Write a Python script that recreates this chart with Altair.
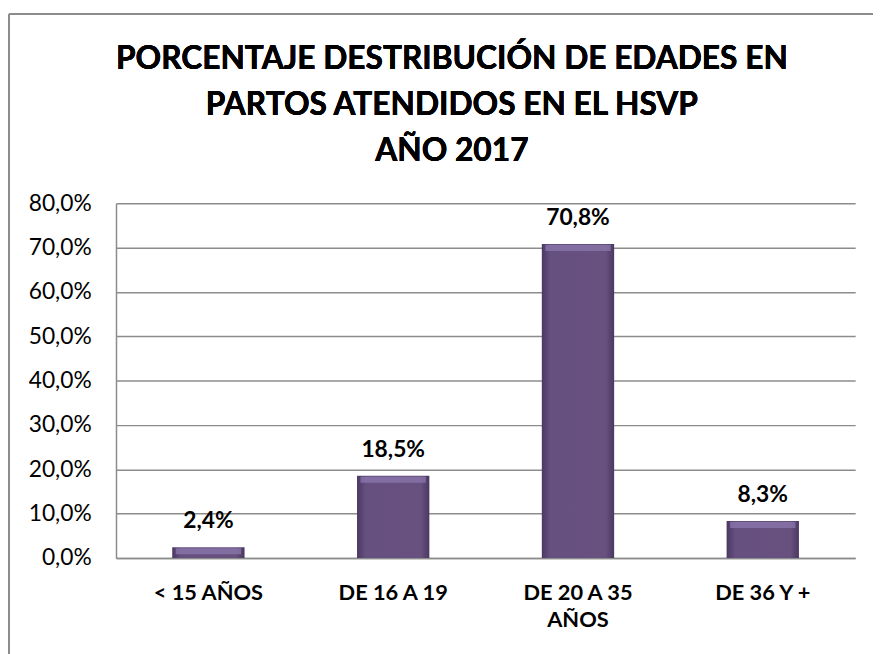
import altair as alt
import pandas as pd

categories = ["< 15 AÑOS", "DE 16 A 19", "DE 20 A 35 AÑOS", "DE 36 Y +"]
values = [2.4, 18.5, 70.8, 8.3]
title_lines = ["PORCENTAJE DESTRIBUCIÓN DE EDADES EN", "PARTOS ATENDIDOS EN EL HSVP", "AÑO 2017"]
y_ticks = [0, 10, 20, 30, 40, 50, 60, 70, 80]

df = pd.DataFrame({"cat": categories, "v": values})

FONT = "Lato"
PLOT_W, PLOT_H = 746, 358

x_enc = alt.X("cat:N", sort=categories, title=None,
              axis=alt.Axis(labelAngle=0, labelFont=FONT, labelFontSize=22, labelFontWeight="bold",
                            labelColor="black", labelPadding=25, ticks=False, domainColor="#8c8c8c",
                            domainWidth=1.5, labelLineHeight=27,
                            labelExpr="datum.label == 'DE 20 A 35 AÑOS' ? ['DE 20 A 35', 'AÑOS'] : datum.label"))
y_scale = alt.Scale(domain=[0, 80], nice=False)
y_enc = alt.Y("v:Q", scale=y_scale, title=None,
              axis=alt.Axis(values=y_ticks, labelFont=FONT, labelFontSize=23, labelColor="black",
                            labelPadding=25, ticks=False, domainColor="#8c8c8c", domainWidth=1.5,
                            gridColor="#8c8c8c", gridWidth=1.5,
                            labelExpr="replace(format(datum.value, '.1f'), '.', ',') + '%'"))

grad = alt.Gradient(
    gradient="linear", x1=0, x2=1, y1=0, y2=0,
    stops=[alt.GradientStop(color="#4a3862", offset=0),
           alt.GradientStop(color="#665080", offset=0.12),
           alt.GradientStop(color="#68517f", offset=0.88),
           alt.GradientStop(color="#4a3862", offset=1)])

bars = alt.Chart(df).mark_bar(size=73, color=grad).encode(x=x_enc, y=y_enc)
bevel = alt.Chart(df).mark_tick(size=66, thickness=6, color="#8f7ab0", yOffset=4, orient="horizontal").encode(
    x=alt.X("cat:N", sort=categories), y=alt.Y("v:Q", scale=y_scale))
labels = alt.Chart(df).transform_calculate(
    lab="replace(format(datum.v, '.1f'), '.', ',') + '%'"
).mark_text(font=FONT, fontSize=23, fontWeight="bold", baseline="alphabetic", dy=-19, color="black").encode(
    x=alt.X("cat:N", sort=categories), y=alt.Y("v:Q", scale=y_scale), text="lab:N")

title_y = [-135, -89, -43]
title_layers = [
    alt.Chart(df).mark_text(font=FONT, fontSize=32, fontWeight="bold", color="black",
                            baseline="alphabetic", align="center", text=line).encode(
        x=alt.value(PLOT_W / 2 - 34), y=alt.value(ty))
    for line, ty in zip(title_lines, title_y)
]

border_top = alt.Chart(df).mark_rule(color="#8c8c8c", strokeWidth=2).encode(
    x=alt.value(-108), x2=alt.value(PLOT_W + 40), y=alt.value(-191))
border_left = alt.Chart(df).mark_rule(color="#8c8c8c", strokeWidth=2).encode(
    x=alt.value(-108), y=alt.value(-191), y2=alt.value(PLOT_H + 100))

chart = alt.layer(border_top, border_left, bars, bevel, labels, *title_layers).properties(
    width=PLOT_W, height=PLOT_H,
    autosize=alt.AutoSizeParams(type="none"),
    padding={"left": 109, "top": 194, "right": 18, "bottom": 94},
).configure_view(stroke=None).configure_axis(grid=False).configure_axisY(grid=True)

chart.save("out.html", embed_options={"renderer": "svg", "actions": False})
